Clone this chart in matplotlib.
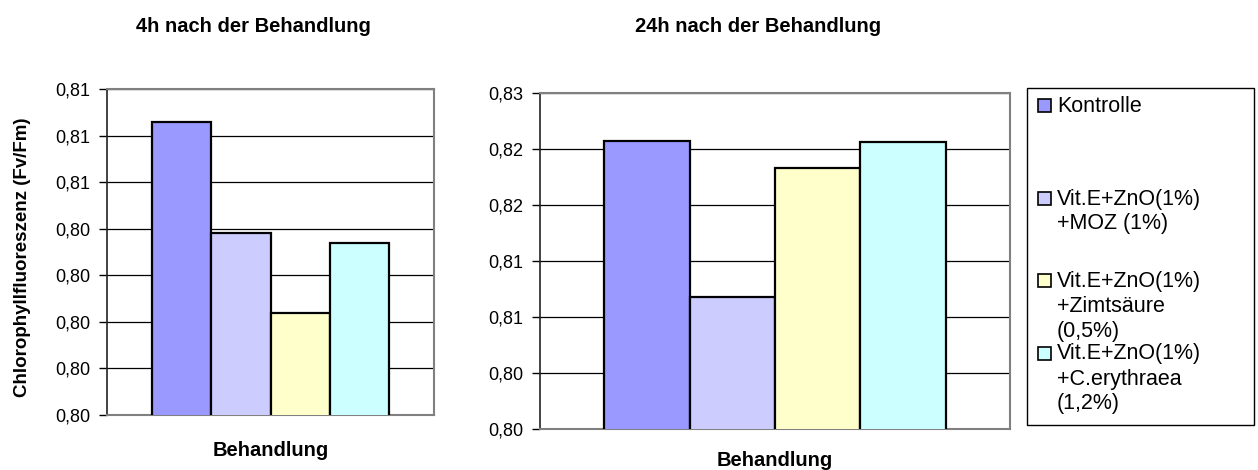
import matplotlib.pyplot as plt
from matplotlib.patches import Rectangle

plt.rcParams['font.family'] = ['Liberation Sans', 'DejaVu Sans']

# Behandlungen und Messwerte (Fv/Fm)
kategorien = ["Kontrolle",
              "Vit.E+ZnO(1%)\n+MOZ (1%)",
              "Vit.E+ZnO(1%)\n+Zimtsäure\n(0,5%)",
              "Vit.E+ZnO(1%)\n+C.erythraea\n(1,2%)"]
werte_4h = [0.8063, 0.8039, 0.8022, 0.8037]
werte_24h = [0.8257, 0.8118, 0.8233, 0.8256]

ticks_4h = [0.800, 0.801, 0.802, 0.803, 0.804, 0.805, 0.806, 0.807]
labels_4h = ["0,80", "0,80", "0,80", "0,80", "0,80", "0,81", "0,81", "0,81"]
ticks_24h = [0.800, 0.805, 0.810, 0.815, 0.820, 0.825, 0.830]
labels_24h = ["0,80", "0,80", "0,81", "0,81", "0,82", "0,82", "0,83"]

farben = ["#9999FF", "#CCCCFF", "#FFFFCC", "#CCFFFF"]

W, H = 1258, 470
fig = plt.figure(figsize=(W / 100, H / 100), dpi=100)


def px_axes(links, oben, rechts, unten):
    return fig.add_axes([links / W, 1 - unten / H, (rechts - links) / W, (unten - oben) / H])


def zeichne(ax, werte, ticks, labels):
    x = range(len(werte))
    ax.bar(x, werte, width=1.0, color=farben, edgecolor="black", linewidth=1.6, zorder=3)
    ax.set_xlim(-1.25, 4.25)
    ax.set_ylim(ticks[0], ticks[-1])
    ax.set_yticks(ticks, labels)
    ax.set_xticks([])
    ax.grid(axis="y", color="black", linewidth=0.9, zorder=0)
    ax.tick_params(axis="y", length=6, width=1, pad=6, labelsize=13)
    for s in ["top", "right", "bottom"]:
        ax.spines[s].set_color("#808080")
        ax.spines[s].set_linewidth(1.5)
    ax.spines["left"].set_color("#222222")
    ax.spines["left"].set_linewidth(1.2)


ax1 = px_axes(107, 89, 434, 415)
zeichne(ax1, werte_4h, ticks_4h, labels_4h)
ax2 = px_axes(540, 93, 1010, 429)
zeichne(ax2, werte_24h, ticks_24h, labels_24h)

# Titel und Achsenbeschriftungen
fig.text(253 / W, 1 - 26 / H, "4h nach der Behandlung", ha="center", va="center",
         fontsize=14.5, fontweight="bold")
fig.text(758 / W, 1 - 26 / H, "24h nach der Behandlung", ha="center", va="center",
         fontsize=14.5, fontweight="bold")
fig.text(271 / W, 1 - 450 / H, "Behandlung", ha="center", va="center",
         fontsize=14.5, fontweight="bold")
fig.text(775 / W, 1 - 460 / H, "Behandlung", ha="center", va="center",
         fontsize=14.5, fontweight="bold")
fig.text(23 / W, 1 - 257 / H, "Chlorophyllfluoreszenz (Fv/Fm)", ha="center", va="center",
         rotation=90, fontsize=13.5, fontweight="bold")

# Legende
fig.patches.append(Rectangle((1027 / W, 1 - 425 / H), 227 / W, 337 / H,
                             transform=fig.transFigure, facecolor="white",
                             edgecolor="black", linewidth=1))
eintrag_y = [105, 198, 280, 353]
zeilenhoehe = 25
for label, farbe, y0 in zip(kategorien, farben, eintrag_y):
    fig.patches.append(Rectangle((1038 / W, 1 - (y0 + 6.5) / H), 13 / W, 13 / H,
                                 transform=fig.transFigure, facecolor=farbe,
                                 edgecolor="black", linewidth=1.2))
    for k, zeile in enumerate(label.split("\n")):
        fig.text(1057 / W, 1 - (y0 + 1 + k * zeilenhoehe) / H, zeile, ha="left", va="center",
                 fontsize=15.5)

fig.savefig("out.png", dpi=100)
